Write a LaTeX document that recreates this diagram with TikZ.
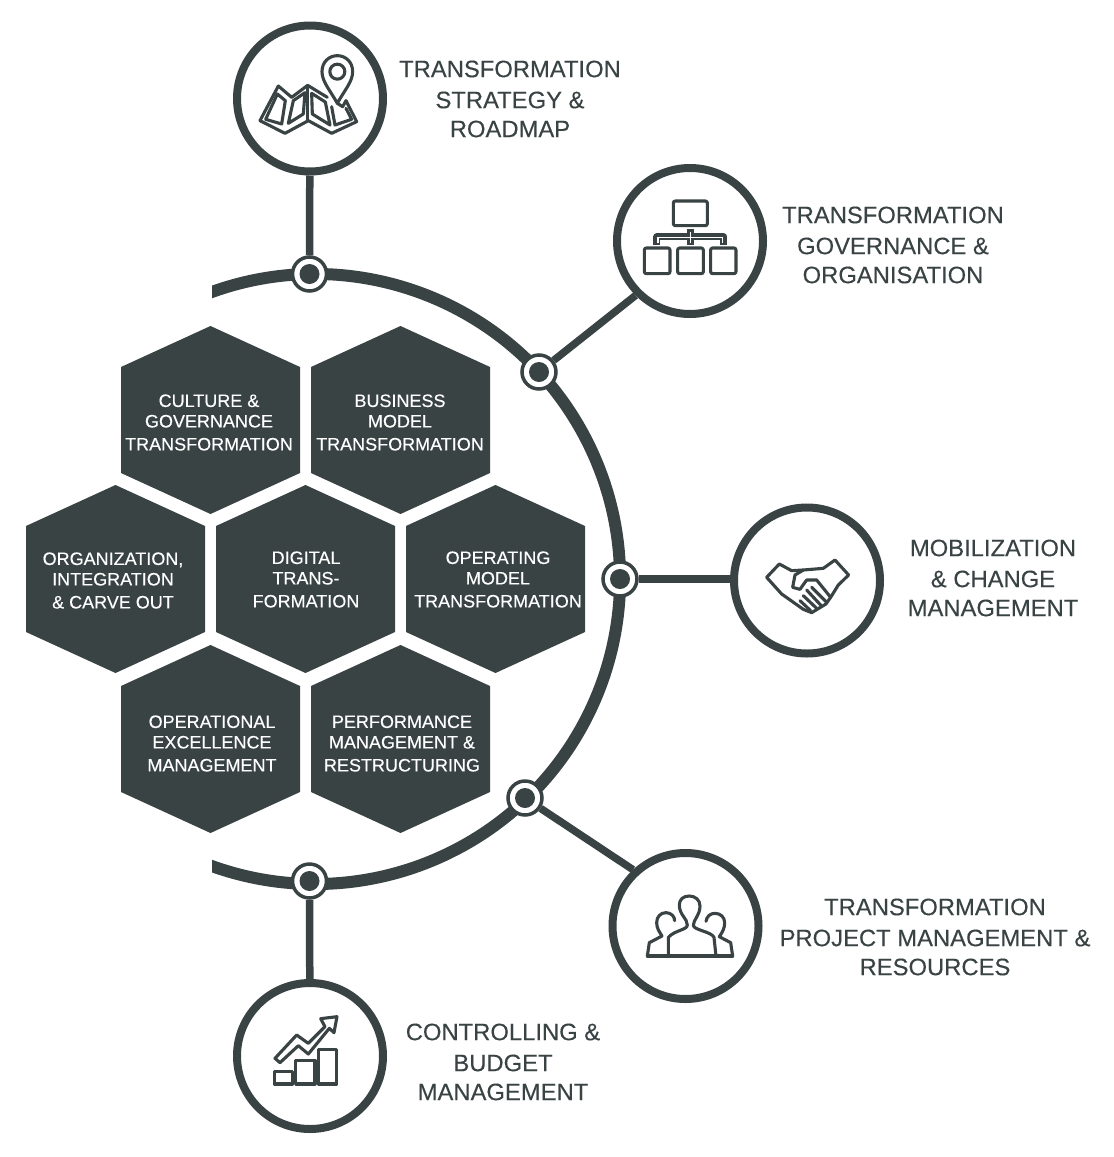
\documentclass[tikz,border=0pt]{standalone}
\usepackage{fontspec}
\setmainfont[FakeBold=0.25]{Liberation Sans}
\definecolor{dark}{HTML}{3A4344}
\tikzset{
  ring/.style={circle,draw=dark,line width=8pt,fill=white,minimum size=146pt,inner sep=0pt},
  dot/.style={circle,draw=dark,line width=3.5pt,fill=white,minimum size=34pt,inner sep=0pt},
  link/.style={draw=dark,line width=7.5pt},
  bigarc/.style={draw=dark,line width=12pt},
  hexfill/.style={fill=dark},
  hextext/.style={text=white,align=center,inner sep=0pt,font=\fontsize{18}{20.5}\selectfont},
  lbl/.style={text=dark,align=center,inner sep=0pt,font=\fontsize{23.8}{29}\selectfont},
  icon/.style={draw=dark,line width=3.1pt,line join=round,line cap=round},
}
\newcommand{\hexa}[6]{%
  \path[hexfill] (#1,#2-94) -- (#1+89.5,#2-53) -- (#1+89.5,#2+53) -- (#1,#2+94) -- (#1-89.5,#2+53) -- (#1-89.5,#2-53) -- cycle;
  \node[hextext] (#3) at (#4,#5) {#6};}
\begin{document}
\begin{tikzpicture}[x=1pt,y=-1pt]
\useasboundingbox[fill=white] (0,0) rectangle (1114,1157);
% main arc
\begin{scope}
  \clip (212,0) rectangle (1114,1157);
  \path[bigarc] (186.1,302.6) arc[start angle=115,end angle=-115,radius=305pt];
\end{scope}
% hexagons
\hexa{210.5}{420}{h1}{209}{422.5}{CULTURE \&\\GOVERNANCE\\[2.5pt]TRANSFORMATION}
\hexa{400.5}{420}{h2}{400}{422.5}{BUSINESS\\MODEL\\[2.5pt]TRANSFORMATION}
\hexa{115.5}{579}{h3}{113}{580.5}{ORGANIZATION,\\INTEGRATION\\[2.5pt]\&\ CARVE OUT}
\hexa{305.5}{579}{h4}{306}{579.5}{DIGITAL\\TRANS-\\[2.5pt]FORMATION}
\hexa{495.5}{579}{h5}{498}{579.5}{OPERATING\\MODEL\\[2.5pt]TRANSFORMATION}
\hexa{210.5}{739}{h6}{212}{743.5}{OPERATIONAL\\EXCELLENCE\\[2.5pt]MANAGEMENT}
\hexa{400.5}{739}{h7}{402}{743.5}{PERFORMANCE\\MANAGEMENT \&\\[2.5pt]RESTRUCTURING}
% rings and dots
\node[ring] (c1) at (310,98.5) {};
\node[ring] (c2) at (690,241) {};
\node[ring] (c3) at (807,580.5) {};
\node[ring] (c4) at (685.5,926) {};
\node[ring] (c5) at (310,1056) {};
\node[dot] (d1) at (309.5,274) {};
\node[dot] (d2) at (539,372) {};
\node[dot] (d3) at (620,579) {};
\node[dot] (d4) at (525,798) {};
\node[dot] (d5) at (309.5,881) {};
\foreach \n in {d1,d2,d3,d4,d5} \fill[dark] (\n) circle (10pt);
\path[link] (d1) -- (c1);
\path[link] (d2) -- (c2.225);
\path[link] (d3) -- (c3.west |- d3);
\path[link] (d4) -- (c4.133);
\path[link] (d5) -- (c5);
% labels
\node[lbl] (l1) at (510,99) {TRANSFORMATION\\[2pt]STRATEGY \&\\ROADMAP};
\node[lbl] (l2) at (893,245) {TRANSFORMATION\\[2pt]GOVERNANCE \&\\ORGANISATION};
\node[lbl] (l3) at (993,578) {MOBILIZATION\\[2pt]\&\ CHANGE\\MANAGEMENT};
\node[lbl] (l4) at (935,937) {TRANSFORMATION\\[2pt]PROJECT MANAGEMENT \&\\RESOURCES};
\node[lbl] (l5) at (503,1062) {CONTROLLING \&\\[2pt]BUDGET\\MANAGEMENT};
% map icon
\begin{scope}[shift={(220,10)},x=.3333pt,y=-.3333pt]
  \draw[icon] (378,272) -- (410,335) -- (335,370) -- (265,332) -- (195,370) -- (120,332) -- (175,228) -- (215,262) -- (263,226) -- (322,262);
  \draw[icon] (378,272) -- (368,290) -- (352,280);
  \draw[icon] (137,328) -- (172,252) -- (196,272) -- (185,342) -- cycle;
  \draw[icon] (205,340) -- (220,272) -- (255,248) -- (250,312) -- cycle;
  \draw[icon] (262,232) -- (262,330);
  \draw[icon] (275,250) -- (316,276) -- (330,345) -- (277,312) -- cycle;
  \draw[icon] (335,290) -- (345,345) -- (395,328) -- (378,295);
  \draw[icon] (352,280) .. controls (330,240) and (306,215) .. (306,185) .. controls (306,155) and (328,137) .. (352,137) .. controls (376,137) and (398,155) .. (398,185) .. controls (398,215) and (374,240) .. (352,280) -- cycle;
  \draw[icon] (352,185) circle (7.5pt);
\end{scope}
% org chart icon
\begin{scope}[shift={(500,160)},x=.3333pt,y=-.3333pt]
  \draw[icon,rounded corners=2pt] (520,123) rectangle (622,197);
  \draw[icon,rounded corners=2pt] (433,264) rectangle (510,341);
  \draw[icon,rounded corners=2pt] (533,264) rectangle (610,341);
  \draw[icon,rounded corners=2pt] (632,264) rectangle (708,341);
  \draw[dark,line width=7pt,line join=round] (471,256) -- (471,231) -- (671,231) -- (671,256) (571,206) -- (571,256);
  \draw[white,line width=1.2pt] (474,250) -- (474,233) -- (668,233) -- (668,250) (571,216) -- (571,248);
\end{scope}
% handshake icon
\begin{scope}[shift={(590,500)},x=.3333pt,y=-.3333pt]
  \draw[icon] (530,232) -- (568,192) -- (605,212) -- (640,210) -- (700,205) -- (735,180) -- (776,225) -- (745,255) -- (722,292);
  \draw[icon] (530,232) -- (575,282) -- (640,328) -- (665,338) -- (708,312) -- (722,292) -- (680,240) -- (650,240) -- (630,268) -- (608,262) -- (615,225) -- (640,210);
  \draw[icon] (665,262) -- (708,305) (650,270) -- (692,315) (640,287) -- (680,325) (630,302) -- (662,332);
\end{scope}
% people icon
\begin{scope}[shift={(600,850)},x=.3333pt,y=-.3333pt]
  \draw[icon] (142,318) -- (398,318);
  \draw[icon] (205,318) -- (205,262) .. controls (225,240) and (262,240) .. (262,225) .. controls (262,205) and (238,195) .. (238,165) .. controls (238,148) and (250,138) .. (268,138) .. controls (286,138) and (300,150) .. (300,168) .. controls (300,195) and (280,210) .. (280,226) .. controls (280,240) and (335,245) .. (342,262) -- (348,318);
  \draw[icon] (142,318) -- (148,278) -- (186,258) .. controls (178,245) and (170,235) .. (170,218) .. controls (170,200) and (182,188) .. (198,188) .. controls (214,188) and (224,200) .. (224,212);
  \draw[icon] (398,318) -- (392,278) -- (358,260) .. controls (368,245) and (374,235) .. (374,218) .. controls (374,202) and (362,190) .. (345,190) .. controls (330,190) and (320,200) .. (318,214);
\end{scope}
% growth icon
\begin{scope}[shift={(230,980)},x=.3333pt,y=-.3333pt]
  \draw[icon] (133,274) rectangle (188,312);
  \draw[icon] (197,241) rectangle (255,312);
  \draw[icon] (265,209) rectangle (320,312);
  \draw[icon] (135,235) -- (200,165) -- (235,190) -- (285,140) -- (272,116) -- (321,110) -- (312,158) -- (298,145) -- (235,222) -- (205,197) -- (150,248) -- cycle;
\end{scope}
\end{tikzpicture}
\end{document}
